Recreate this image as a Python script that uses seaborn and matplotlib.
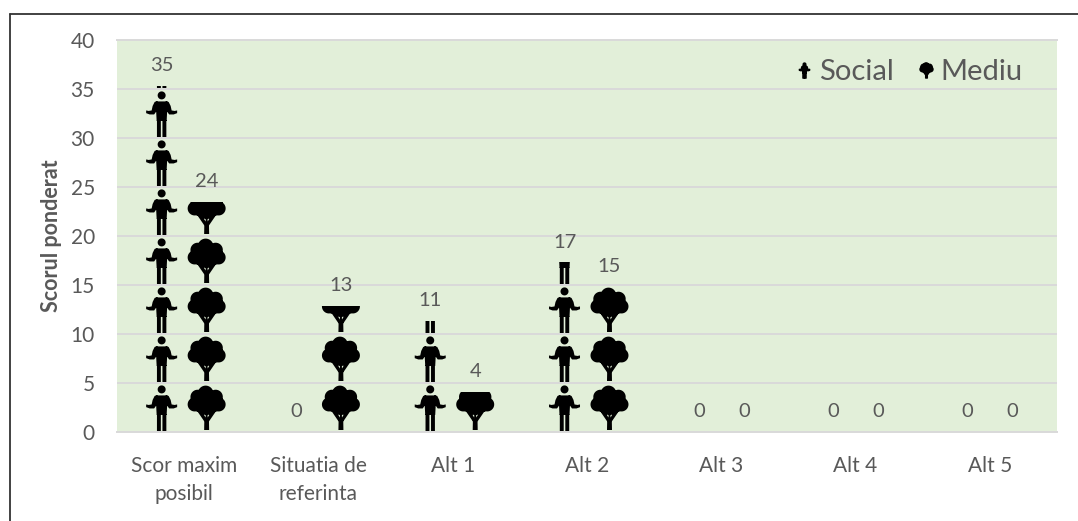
import numpy as np
import pandas as pd
import matplotlib
matplotlib.use("Agg")
import matplotlib.pyplot as plt
import seaborn as sns
from matplotlib.path import Path
from matplotlib.patches import PathPatch
from matplotlib.transforms import Affine2D
from matplotlib.lines import Line2D

categories = ["Scor maxim\nposibil", "Situatia de\nreferinta", "Alt 1", "Alt 2", "Alt 3", "Alt 4", "Alt 5"]
social = [35.3, 0, 11.3, 17.3, 0, 0, 0]
mediu = [23.5, 12.9, 4.1, 14.8, 0, 0, 0]
series_names = ["Social", "Mediu"]
y_ticks = [0, 5, 10, 15, 20, 25, 30, 35, 40]
y_title = "Scorul ponderat"

TEXT = "#595959"
BG = "#e2efd9"
GRID = "#d9d9d9"
TILE = 5  # one icon stands for 5 score points

sns.set_theme(style="white")
plt.rcParams["font.family"] = ["Lato", "DejaVu Sans"]


def poly(pts):
    pts = np.asarray(pts, float)
    x, y = pts[:, 0], pts[:, 1]
    if np.sum(x * np.roll(y, -1) - np.roll(x, -1) * y) < 0:
        pts = pts[::-1]
    return Path(np.vstack([pts, pts[0]]), closed=True)


def circ(cx, cy, r):
    t = np.linspace(0, 2 * np.pi, 40, endpoint=False)
    return poly(np.c_[cx + r * np.cos(t), cy + r * np.sin(t)])


def person_icon():
    parts = [
        circ(0, 42.5, 4.0),
        poly([(-6, 36.5), (6, 36.5), (5, 17), (-5, 17)]),
        poly([(-4.7, 18), (-0.8, 18), (-0.8, 1), (-4.7, 1)]),
        poly([(0.8, 18), (4.7, 18), (4.7, 1), (0.8, 1)]),
    ]
    for s in (-1, 1):
        parts.append(poly([(s * 4, 36.5), (s * 7, 36), (s * 9, 32), (s * 10, 27.5),
                           (s * 13, 27), (s * 15.5, 27.5), (s * 15.5, 24.8), (s * 12, 23.5),
                           (s * 7.5, 23.5), (s * 5, 27)]))
    return Path.make_compound_path(*parts)


def tree_icon():
    parts = [circ(-1, 38.5, 7.8), circ(-9, 35, 7.2), circ(9, 35, 7.2),
             circ(-12, 27.5, 7), circ(12, 27.5, 7), circ(0, 29.5, 12.5),
             circ(-7, 28.5, 8.5), circ(7, 28.5, 8.5),
             poly([(-2.5, 2), (2.5, 2), (2.3, 13), (-2.3, 13)]),
             poly([(-2.3, 10.5), (-0.8, 14), (-5, 21), (-9.5, 21)]),
             poly([(2.3, 10.5), (0.8, 14), (5, 21), (9.5, 21)]),
             poly([(-1, 13), (1, 13), (1, 22), (-1, 22)])]
    return Path.make_compound_path(*parts)


icons = {"Social": person_icon(), "Mediu": tree_icon()}

df = pd.DataFrame({
    "cat": categories * 2,
    "val": social + mediu,
    "serie": [series_names[0]] * len(social) + [series_names[1]] * len(mediu),
})

fig = plt.figure(figsize=(10.78, 5.21), dpi=100, facecolor="white")
W, H = 1078, 521
ax = fig.add_axes([117 / W, 1 - 432 / H, 940 / W, 392 / H])
sns.barplot(data=df, x="cat", y="val", hue="serie", hue_order=series_names, order=categories,
            width=0.67, gap=0, dodge=True, legend=False, ax=ax, errorbar=None)
ax.set_facecolor(BG)
ax.set_ylim(0, 40)
ax.set_yticks(y_ticks)
ax.set_axisbelow(True)
ax.grid(axis="y", color=GRID, lw=1.4)
ax.grid(axis="x", visible=False)
for side in ("left", "right"):
    ax.spines[side].set_visible(False)
for side in ("top", "bottom"):
    ax.spines[side].set_color(GRID)
    ax.spines[side].set_linewidth(1.4)
ax.tick_params(axis="both", length=0, labelcolor=TEXT)
ax.tick_params(axis="y", labelsize=15, pad=16)
ax.tick_params(axis="x", labelsize=15, pad=17)
for lab in ax.get_xticklabels():
    lab.set_linespacing(1.5)
ax.set_xlabel("")
ax.set_ylabel(y_title, color=TEXT, fontweight="bold", fontsize=15.5)
ax.yaxis.set_label_coords(-55 / 940, 0.5)

# pictogram tiles, cut off by the bar that seaborn placed for each value
px_x = 1 / (940 / 7)
px_y = TILE / 48.9
for name, container in zip(series_names, ax.containers):
    for bar in container:
        h = bar.get_height()
        cx = bar.get_x() + bar.get_width() / 2
        bar.set_facecolor("none")
        bar.set_edgecolor("none")
        for k in range(int(np.ceil(h / TILE))):
            tr = Affine2D().scale(px_x, px_y).translate(cx, k * TILE) + ax.transData
            icon = PathPatch(icons[name], transform=tr, facecolor="black", edgecolor="none", zorder=3)
            ax.add_patch(icon)
            icon.set_clip_path(bar)
    ax.bar_label(container, fmt="%.0f", padding=8.5, color=TEXT, fontsize=14.5)

handles = [Line2D([], [], linestyle="none", color="black", marker=icons[n].transformed(Affine2D().translate(0, -24)),
                  markersize=11) for n in series_names]
ax.legend(handles, series_names, ncol=2, frameon=False, loc="upper right",
          bbox_to_anchor=(0.988, 1.01), fontsize=21, labelcolor=TEXT,
          handletextpad=0.0, columnspacing=0.6, handlelength=1.0, borderpad=0.3)

# screenshot frame
fig.add_artist(Line2D([10 / W, 10 / W], [0, 1 - 14 / H], color="#333333", lw=1.3))
fig.add_artist(Line2D([10 / W, 1], [1 - 14 / H, 1 - 14 / H], color="#333333", lw=1.3))

fig.savefig("out.png", dpi=100)
